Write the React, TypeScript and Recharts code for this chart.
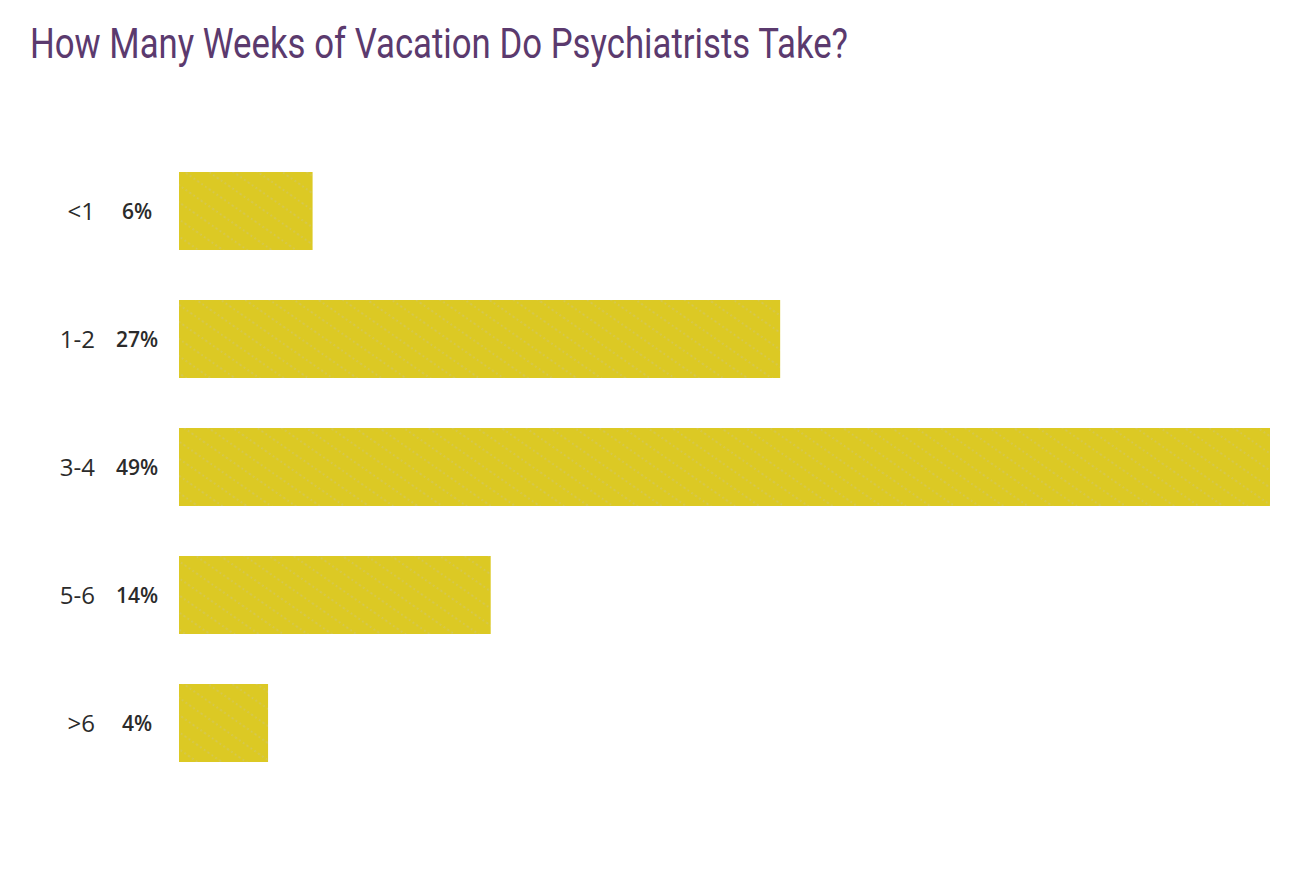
import React from "react";
import { BarChart, Bar, XAxis, YAxis } from "recharts";

const categories = ["<1", "1-2", "3-4", "5-6", ">6"];
const percentages = [6, 27, 49, 14, 4];
const percentLabels = ["6%", "27%", "49%", "14%", "4%"];

const data = categories.map((c, i) => ({ name: c, value: percentages[i], label: percentLabels[i] }));

const TITLE = "How Many Weeks of Vacation Do Psychiatrists Take?";
const BAR = "#DCC924";
const TEXT = "#2b2b2b";

const Tick = (props: any) => {
  const { y, payload, index } = props;
  return (
    <g>
      <text x={95} y={y} dy="0.36em" textAnchor="end" fontFamily="'Open Sans', sans-serif" fontSize={24} fontWeight={500} fill={TEXT}>
        {payload.value}
      </text>
      <text x={137} y={y} dy="0.36em" textAnchor="middle" fontFamily="'Open Sans', sans-serif" fontSize={21} fontWeight={600} fill={TEXT}>
        {percentLabels[index]}
      </text>
    </g>
  );
};

export default function App() {
  return (
    <div style={{ position: "absolute", left: 0, top: 0, width: 1290, height: 878, background: "#fff" }}>
      <svg width={0} height={0} style={{ position: "absolute" }}>
        <defs>
          <pattern id="diag" patternUnits="userSpaceOnUse" width={14} height={14} patternTransform="rotate(35)">
            <rect x={0} y={0} width={14} height={14} fill={BAR} />
            <line x1={0} y1={7} x2={14} y2={7} stroke="#c9c398" strokeWidth={0.9} strokeDasharray="1.5 3" opacity={0.9} />
          </pattern>
        </defs>
      </svg>
      <svg width={1290} height={90} style={{ position: "absolute", left: 0, top: 0 }}>
        <text x={30} y={58} fontFamily="Roboto, sans-serif" fontSize={42} fill="#5B3A6E" textLength={818} lengthAdjust="spacingAndGlyphs">
          {TITLE}
        </text>
      </svg>
      <div style={{ position: "absolute", left: 0, top: 0 }}>
        <BarChart
          width={1290}
          height={878}
          data={data}
          layout="vertical"
          margin={{ top: 147, right: 20, bottom: 91, left: 0 }}
          barSize={78}
        >
          <XAxis type="number" domain={[0, 49]} hide />
          <YAxis
            type="category"
            dataKey="name"
            width={179}
            axisLine={false}
            tickLine={false}
            tick={<Tick />}
          />
          <Bar dataKey="value" fill="url(#diag)" isAnimationActive={false} />
        </BarChart>
      </div>
    </div>
  );
}
